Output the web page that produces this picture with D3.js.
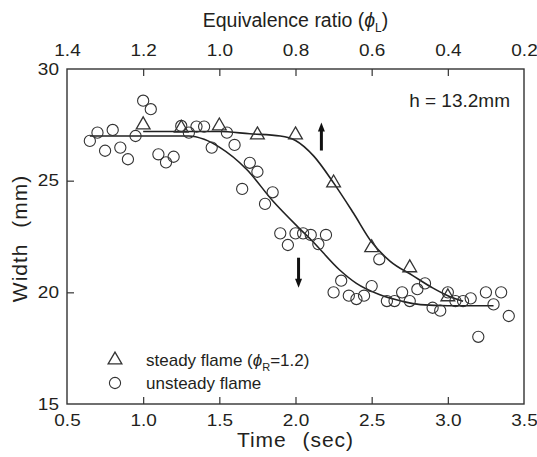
<!DOCTYPE html>
<html>
<head>
<meta charset="utf-8">
<script src="https://cdn.jsdelivr.net/npm/d3@7"></script>
<style>
  body { margin: 0; background: #fff; }
  text { font-family: Arial, "Liberation Sans", sans-serif; fill: #231f20; }
</style>
</head>
<body>
<div id="chart"></div>
<script>
// measured points, steady flame (triangles)
const steadyTime = [1.0, 1.25, 1.5, 1.75, 2.0, 2.25, 2.5, 2.75, 3.0];
const steadyWidth = [27.5, 27.35, 27.45, 27.05, 27.05, 24.9, 22.0, 21.1, 19.8];

// measured points, unsteady flame (circles)
const unsteadyTime = [0.65, 0.70, 0.75, 0.80, 0.85, 0.90, 0.95, 1.00, 1.05, 1.10, 1.15, 1.20,
  1.25, 1.30, 1.35, 1.40, 1.45, 1.55, 1.60, 1.65, 1.70, 1.75, 1.80, 1.85, 1.90, 1.95, 2.00,
  2.05, 2.10, 2.15, 2.20, 2.25, 2.30, 2.35, 2.40, 2.45, 2.50, 2.55, 2.60, 2.65, 2.70, 2.75,
  2.80, 2.85, 2.90, 2.95, 3.00, 3.05, 3.10, 3.15, 3.20, 3.25, 3.30, 3.35, 3.40];
const unsteadyWidth = [26.78, 27.15, 26.34, 27.27, 26.48, 25.96, 27.0, 28.58, 28.2, 26.18, 25.82, 26.07,
  27.45, 27.15, 27.42, 27.42, 26.48, 27.15, 26.6, 24.63, 25.8, 25.4, 23.96, 24.48, 22.64, 22.12, 22.64,
  22.64, 22.57, 22.16, 22.57, 20.0, 20.52, 19.85, 19.7, 19.85, 20.28, 21.48, 19.61, 19.61, 20.0, 19.61,
  20.14, 20.4, 19.31, 19.18, 20.0, 19.61, 19.61, 19.73, 18.01, 20.0, 19.46, 20.0, 18.94];

// fitted curves
const steadyFitTime = [1.0, 1.5, 1.7, 1.9, 2.0, 2.12, 2.25, 2.38, 2.5, 2.62, 2.77, 2.9, 3.0, 3.1];
const steadyFitWidth = [27.2, 27.2, 27.1, 27.0, 26.8, 26.1, 24.9, 23.55, 22.25, 21.4, 20.75, 20.2, 19.85, 19.6];
const unsteadyFitTime = [0.65, 1.0, 1.3, 1.4, 1.5, 1.68, 1.85, 2.02, 2.11, 2.29, 2.4, 2.55, 2.7, 2.82, 3.0, 3.3];
const unsteadyFitWidth = [27.0, 27.0, 27.0, 26.85, 26.5, 25.5, 24.1, 22.9, 22.3, 21.0, 20.4, 19.9, 19.6, 19.45, 19.4, 19.4];

const timeTicks = [0.5, 1.0, 1.5, 2.0, 2.5, 3.0, 3.5];
const widthTicks = [15, 20, 25, 30];
const phiTicks = [1.4, 1.2, 1.0, 0.8, 0.6, 0.4, 0.2];

// direction arrows: time, start width, end width (head at end)
const arrowTime = [2.17, 2.02];
const arrowFrom = [26.35, 21.55];
const arrowTo = [27.6, 20.2];

const W = 537, H = 457;
const margin = {top: 69, right: 13, bottom: 53, left: 67};
const innerW = W - margin.left - margin.right;
const innerH = H - margin.top - margin.bottom;
const ink = '#333';
const stretch = 'scale(1.15,1)';

const svg = d3.select('#chart').append('svg')
    .attr('width', W)
    .attr('height', H);

const g = svg.append('g')
    .attr('transform', `translate(${margin.left},${margin.top})`);

const x = d3.scaleLinear().domain([0.5, 3.5]).range([0, innerW]);
const y = d3.scaleLinear().domain([15, 30]).range([innerH, 0]);
const phi = d3.scaleLinear().domain([1.4, 0.2]).range([0, innerW]);

// axes (ticks point inward)
const xAxis = g.append('g')
    .attr('transform', `translate(0,${innerH})`)
    .call(d3.axisBottom(x).tickValues(timeTicks).tickFormat(d3.format('.1f'))
        .tickSizeInner(-7).tickSizeOuter(0).tickPadding(10));

const yAxis = g.append('g')
    .call(d3.axisLeft(y).tickValues(widthTicks).tickFormat(d3.format('d'))
        .tickSizeInner(-7).tickSizeOuter(0).tickPadding(7));

const topAxis = g.append('g')
    .call(d3.axisTop(phi).tickValues(phiTicks).tickFormat(d3.format('.1f'))
        .tickSizeInner(-7).tickSizeOuter(0).tickPadding(13));

[xAxis, yAxis, topAxis].forEach(a => {
    a.select('.domain').remove();
    a.selectAll('line').attr('stroke', ink).attr('stroke-width', 1.2);
    a.selectAll('text')
        .attr('font-size', '16.5px')
        .attr('font-family', 'Arial, "Liberation Sans", sans-serif')
        .attr('fill', '#231f20')
        .attr('transform', stretch);
});
// no tick marks on the frame corners
[xAxis, topAxis].forEach(a => a.selectAll('.tick line').filter((d, i, n) => i === 0 || i === n.length - 1).remove());
yAxis.selectAll('.tick line').filter(d => d === 15 || d === 30).remove();

g.append('rect')
    .attr('width', innerW)
    .attr('height', innerH)
    .attr('fill', 'none')
    .attr('stroke', ink)
    .attr('stroke-width', 1.4);

// axis titles
svg.append('text')
    .attr('x', margin.left + innerW / 2)
    .attr('y', 447)
    .attr('text-anchor', 'middle')
    .attr('font-size', '21px')
    .attr('letter-spacing', 1)
    .attr('word-spacing', 1)
    .attr('xml:space', 'preserve')
    .text('Time  (sec)');

svg.append('text')
    .attr('transform', `translate(27,${margin.top + innerH / 2 + 2}) rotate(-90)`)
    .attr('text-anchor', 'middle')
    .attr('font-size', '21px')
    .attr('letter-spacing', 1)
    .attr('word-spacing', 1)
    .attr('xml:space', 'preserve')
    .text('Width  (mm)');

const topTitle = svg.append('text')
    .attr('x', margin.left + innerW / 2)
    .attr('y', 27)
    .attr('text-anchor', 'middle')
    .attr('font-size', '19.5px');
topTitle.append('tspan').text('Equivalence ratio (');
topTitle.append('tspan').attr('font-style', 'italic').text('ϕ');
topTitle.append('tspan').attr('font-size', '12px').attr('dy', 5).text('L');
topTitle.append('tspan').attr('dy', -5).text(')');

g.append('text')
    .attr('x', innerW - 14)
    .attr('y', 38)
    .attr('text-anchor', 'end')
    .attr('font-size', '19px')
    .text('h = 13.2mm');

// fitted curves
const line = d3.line()
    .x(d => x(d[0]))
    .y(d => y(d[1]))
    .curve(d3.curveMonotoneX);

g.append('path')
    .datum(d3.zip(unsteadyFitTime, unsteadyFitWidth))
    .attr('d', line)
    .attr('fill', 'none')
    .attr('stroke', '#222')
    .attr('stroke-width', 1.6);

g.append('path')
    .datum(d3.zip(steadyFitTime, steadyFitWidth))
    .attr('d', line)
    .attr('fill', 'none')
    .attr('stroke', '#222')
    .attr('stroke-width', 1.6);

// markers
const tri = d3.symbol().type(d3.symbolTriangle).size(82);

g.selectAll('.steady')
    .data(d3.zip(steadyTime, steadyWidth))
    .enter().append('path')
    .attr('class', 'steady')
    .attr('d', tri)
    .attr('transform', d => `translate(${x(d[0])},${y(d[1])})`)
    .attr('fill', 'none')
    .attr('stroke', ink)
    .attr('stroke-width', 1.3);

g.selectAll('.unsteady')
    .data(d3.zip(unsteadyTime, unsteadyWidth))
    .enter().append('circle')
    .attr('class', 'unsteady')
    .attr('cx', d => x(d[0]))
    .attr('cy', d => y(d[1]))
    .attr('r', 5.6)
    .attr('fill', 'none')
    .attr('stroke', ink)
    .attr('stroke-width', 1.1);

// arrows
d3.zip(arrowTime, arrowFrom, arrowTo).forEach(([t, w0, w1]) => {
    const ax = x(t), y0 = y(w0), y1 = y(w1);
    const dir = y1 < y0 ? -1 : 1;
    g.append('line')
        .attr('x1', ax).attr('x2', ax)
        .attr('y1', y0).attr('y2', y1 - dir * 8)
        .attr('stroke', '#111')
        .attr('stroke-width', 3);
    g.append('path')
        .attr('d', `M${ax - 3.5},${y1 - dir * 9}L${ax + 3.5},${y1 - dir * 9}L${ax},${y1}Z`)
        .attr('fill', '#111');
});

// legend
const legend = g.append('g')
    .attr('transform', 'translate(48,291)');

legend.append('path')
    .attr('d', tri)
    .attr('fill', 'none')
    .attr('stroke', ink)
    .attr('stroke-width', 1.3);

legend.append('circle')
    .attr('cy', 23)
    .attr('r', 5.6)
    .attr('fill', 'none')
    .attr('stroke', ink)
    .attr('stroke-width', 1.1);

const l1 = legend.append('text')
    .attr('x', 31)
    .attr('y', 6)
    .attr('font-size', '17px');
l1.append('tspan').text('steady flame (');
l1.append('tspan').attr('font-style', 'italic').text('ϕ');
l1.append('tspan').attr('font-size', '11px').attr('dy', 5).text('R');
l1.append('tspan').attr('dy', -5).text('=1.2)');

legend.append('text')
    .attr('x', 31)
    .attr('y', 29)
    .attr('font-size', '17px')
    .text('unsteady flame');
</script>
</body>
</html>
